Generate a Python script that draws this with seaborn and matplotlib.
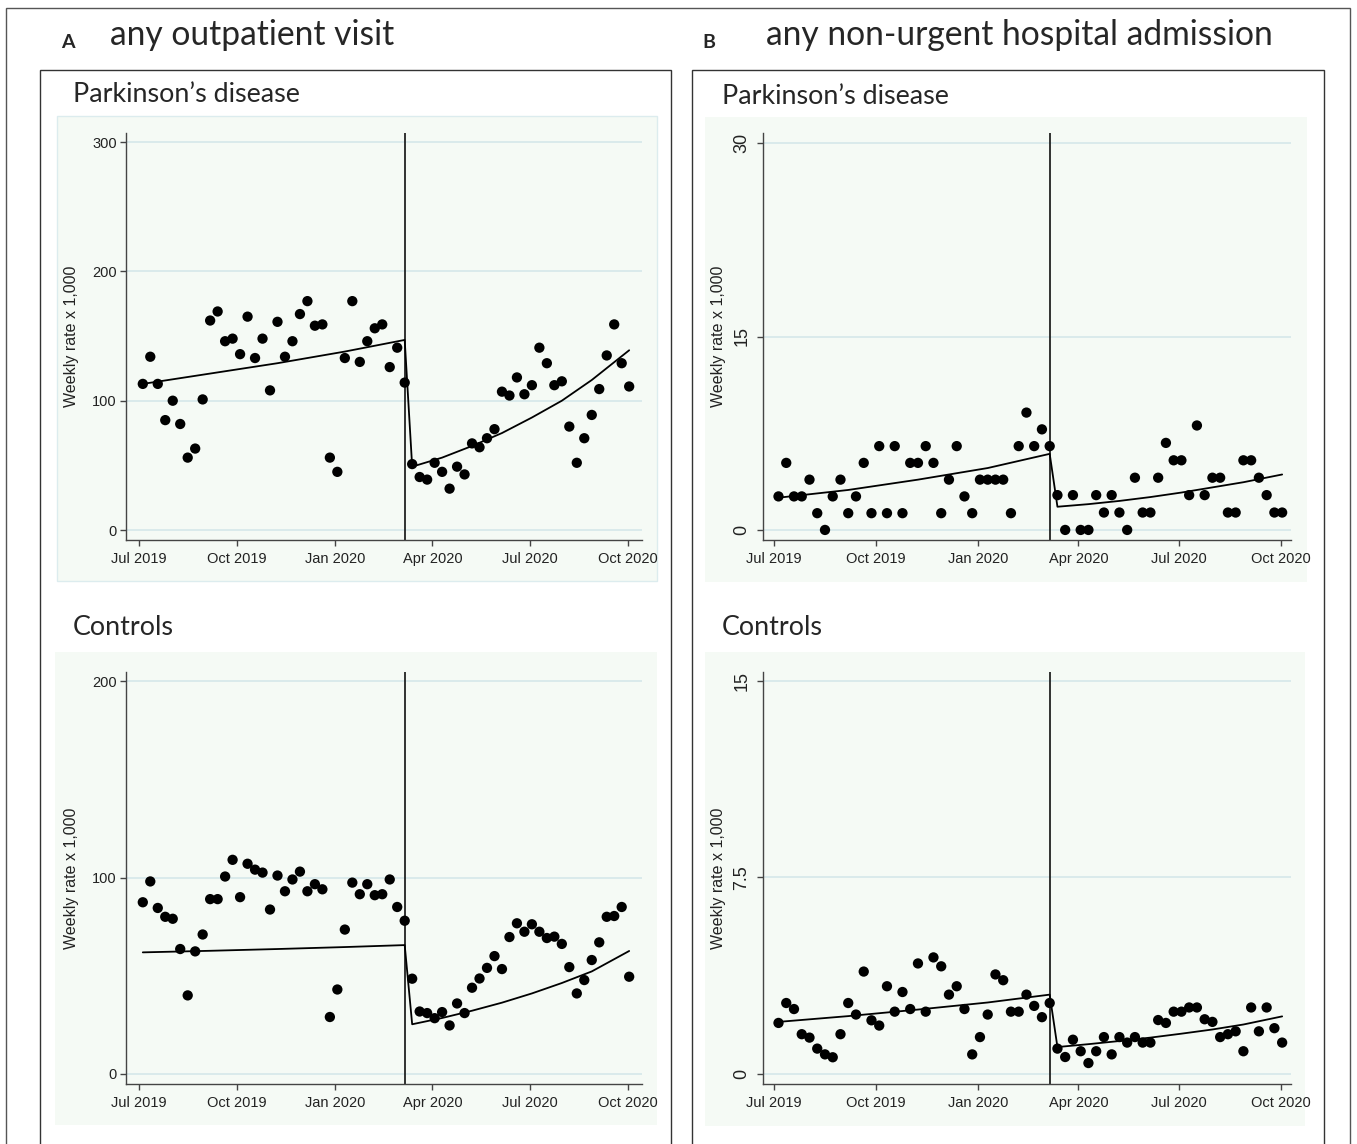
import numpy as np
import pandas as pd
import matplotlib
matplotlib.use("Agg")
import matplotlib.pyplot as plt
from matplotlib.patches import Rectangle
import seaborn as sns

# weekly data, Jul 2019 - Oct 2020 (66 weeks, 36 before the break)
weeks = pd.date_range("2019-07-05", periods=66, freq="7D")

pd_outpatient = [113, 134, 113, 85, 100, 82, 56, 63, 101, 162, 169, 146, 148, 136, 165, 133,
                 148, 108, 161, 134, 146, 167, 177, 158, 159, 56, 45, 133, 177, 130, 146, 156,
                 159, 126, 141, 114,
                 51, 41, 39, 52, 45, 32, 49, 43, 67, 64, 71, 78, 107, 104, 118, 105, 112, 141,
                 129, 112, 115, 80, 52, 71, 89, 109, 135, 159, 129, 111]

ctrl_outpatient = [87.4, 98, 84.5, 80, 79, 63.6, 40, 62.4, 71, 89, 89, 100.5, 109, 90, 107, 104,
                   102.5, 83.7, 101, 93, 99, 103, 93, 96.6, 94, 29, 43, 73.5, 97.4, 91.5, 96.6,
                   91, 91.5, 99, 85, 78,
                   48.5, 31.8, 31, 28.4, 31.5, 24.7, 35.9, 31, 43.9, 48.6, 54, 60, 53.4, 69.7,
                   76.7, 72.4, 76.2, 72.4, 69.2, 69.9, 66.2, 54.4, 41, 47.8, 58, 67, 80, 80.4,
                   85, 49.5]

pd_nonurgent = [2.6, 5.2, 2.6, 2.6, 3.9, 1.3, 0, 2.6, 3.9, 1.3, 2.6, 5.2, 1.3, 6.5, 1.3, 6.5,
                1.3, 5.2, 5.2, 6.5, 5.2, 1.3, 3.9, 6.5, 2.6, 1.3, 3.9, 3.9, 3.9, 3.9, 1.3, 6.5,
                9.1, 6.5, 7.8, 6.5,
                2.7, 0, 2.7, 0, 0, 2.7, 1.35, 2.7, 1.35, 0, 4.05, 1.35, 1.35, 4.05, 6.75, 5.4,
                5.4, 2.7, 8.1, 2.7, 4.05, 4.05, 1.35, 1.35, 5.4, 5.4, 4.05, 2.7, 1.35, 1.35]

ctrl_nonurgent = [1.95, 2.71, 2.48, 1.52, 1.39, 0.97, 0.75, 0.64, 1.52, 2.71, 2.27, 3.91, 2.05,
                  1.85, 3.35, 2.38, 3.13, 2.48, 4.22, 2.38, 4.45, 4.11, 3.03, 3.35, 2.48, 0.75,
                  1.41, 2.27, 3.80, 3.58, 2.38, 2.38, 3.03, 2.60, 2.17, 2.71,
                  0.97, 0.65, 1.31, 0.87, 0.42, 0.87, 1.41, 0.75, 1.41, 1.20, 1.41, 1.20, 1.20,
                  2.06, 1.95, 2.38, 2.38, 2.54, 2.54, 2.09, 1.99, 1.41, 1.52, 1.63, 0.87, 2.54,
                  1.63, 2.54, 1.75, 1.20]

# fitted trend at a few weeks (index into weeks)
trend_weeks = [0, 9, 18, 27, 35, 36, 40, 44, 48, 52, 56, 60, 65]
pd_outpatient_fit = [113, 121, 129, 138, 147, 49, 56, 65, 75, 87, 100, 116, 139]
ctrl_outpatient_fit = [61.9, 62.7, 63.6, 64.6, 65.6, 25.3, 28.5, 32.2, 36.3, 41, 46.3, 52.2, 62.6]
pd_nonurgent_fit = [2.5, 3.1, 3.9, 4.8, 5.9, 1.8, 2.0, 2.25, 2.55, 2.9, 3.3, 3.7, 4.3]
ctrl_nonurgent_fit = [1.99, 2.21, 2.46, 2.73, 3.03, 1.03, 1.14, 1.26, 1.39, 1.54, 1.7, 1.89, 2.2]
break_week = 35

tick_dates = pd.to_datetime(["2019-07-01", "2019-10-01", "2020-01-01",
                             "2020-04-01", "2020-07-01", "2020-10-01"])
tick_labels = ["Jul 2019", "Oct 2019", "Jan 2020", "Apr 2020", "Jul 2020", "Oct 2020"]

sns.set_theme(style="white")
plt.rcParams["font.family"] = ["Liberation Sans Narrow", "Liberation Sans", "DejaVu Sans"]

W, H = 1357, 1144
fig = plt.figure(figsize=(W / 100, H / 100), dpi=100)


def box(x0, y0, x1, y1):
    return [x0 / W, 1 - y1 / H, (x1 - x0) / W, (y1 - y0) / H]


def rect(x0, y0, x1, y1, **kw):
    fig.patches.append(Rectangle((x0 / W, 1 - y1 / H), (x1 - x0) / W, (y1 - y0) / H,
                                 transform=fig.transFigure, zorder=-5, **kw))


# frames
rect(6, 8, 1350, 1160, fill=False, edgecolor="#555555", lw=1)
rect(40, 70, 671, 1160, fill=False, edgecolor="#333333", lw=1)
rect(692, 70, 1324, 1160, fill=False, edgecolor="#333333", lw=1)

# plot backgrounds
bg = "#f5faf5"
rect(57, 116, 657, 581, facecolor=bg, edgecolor="#dcecee", lw=1)
rect(55, 652, 657, 1125, facecolor=bg, edgecolor="none")
rect(705, 117, 1307, 582, facecolor=bg, edgecolor="none")
rect(705, 652, 1305, 1126, facecolor=bg, edgecolor="none")

title_font = ["Lato", "DejaVu Sans"]
fig.text(68 / W, 1 - 43 / H, "A", fontsize=14, fontweight="bold", family=title_font,
         ha="center", va="center")
fig.text(110 / W, 1 - 35 / H, "any outpatient visit", fontsize=24.2, family=title_font,
         ha="left", va="center")
fig.text(709 / W, 1 - 43 / H, "B", fontsize=14, fontweight="bold", family=title_font,
         ha="center", va="center")
fig.text(766 / W, 1 - 35 / H, "any non-urgent hospital admission", fontsize=24.2,
         family=title_font, ha="left", va="center")
for x, y, s in [(73, 95, "Parkinson’s disease"), (722, 97, "Parkinson’s disease"),
                (73, 627, "Controls"), (722, 627, "Controls")]:
    fig.text(x / W, 1 - y / H, s, fontsize=19.4, family=title_font, ha="left", va="center")

panels = [
    (box(125.7, 133, 642, 540), pd_outpatient, pd_outpatient_fit, (-7.7, 307),
     [0, 100, 200, 300], ["0", "100", "200", "300"], False, ("2019-06-19", "2020-10-14")),
    (box(125.7, 672, 642, 1084), ctrl_outpatient, ctrl_outpatient_fit, (-5.1, 204.6),
     [0, 100, 200], ["0", "100", "200"], False, ("2019-06-19", "2020-10-14")),
    (box(763, 133, 1291, 540), pd_nonurgent, pd_nonurgent_fit, (-0.78, 30.78),
     [0, 15, 30], ["0", "15", "30"], True, ("2019-06-21", "2020-10-10")),
    (box(763, 672, 1291, 1084), ctrl_nonurgent, ctrl_nonurgent_fit, (-0.38, 15.34),
     [0, 7.5, 15], ["0", "7.5", "15"], True, ("2019-06-21", "2020-10-10")),
]

for pos, values, fit, ylim, yticks, ylabels, rotate, xlim in panels:
    ax = fig.add_axes(pos)
    ax.set_facecolor("none")
    for yv in yticks:
        ax.axhline(yv, color="#d5e7ea", lw=1.2, zorder=0)
    ax.axvline(weeks[break_week], color="#222222", lw=1.3, zorder=1)
    sns.scatterplot(x=weeks, y=values, ax=ax, color="black", s=55, edgecolor="none", zorder=3)
    fit_df = pd.DataFrame({"week": weeks[trend_weeks], "rate": fit})
    sns.lineplot(data=fit_df, x="week", y="rate", ax=ax, color="black", lw=1.3,
                 sort=False, estimator=None, zorder=2)
    ax.set_xlim(pd.Timestamp(xlim[0]), pd.Timestamp(xlim[1]))
    ax.set_ylim(*ylim)
    ax.set_xticks(tick_dates)
    ax.set_xticklabels(tick_labels, fontsize=10.5)
    ax.set_yticks(yticks)
    ax.set_xlabel("")
    ax.set_ylabel("Weekly rate x 1,000", fontsize=11.5, color="#222222",
                  family=["Liberation Sans", "DejaVu Sans"])
    width_px = pos[2] * W
    if rotate:
        ax.set_yticklabels(ylabels, fontsize=13, rotation=90, va="center",
                           family=["Liberation Sans", "DejaVu Sans"])
        ax.tick_params(axis="y", pad=5)
        ax.yaxis.set_label_coords((726 - 763) / width_px, 0.5)
    else:
        ax.set_yticklabels(ylabels, fontsize=10.5)
        ax.tick_params(axis="y", pad=2.5)
        ax.yaxis.set_label_coords((79 - 125.7) / width_px, 0.5)
    for side in ["top", "right"]:
        ax.spines[side].set_visible(False)
    for side in ["left", "bottom"]:
        ax.spines[side].set_color("#444444")
        ax.spines[side].set_linewidth(1)
    ax.tick_params(axis="both", which="major", direction="out", length=4, width=1,
                   color="#444444", left=True, bottom=True, labelcolor="#222222")
    ax.tick_params(axis="x", pad=4.5)

fig.savefig("out.png", dpi=100)
